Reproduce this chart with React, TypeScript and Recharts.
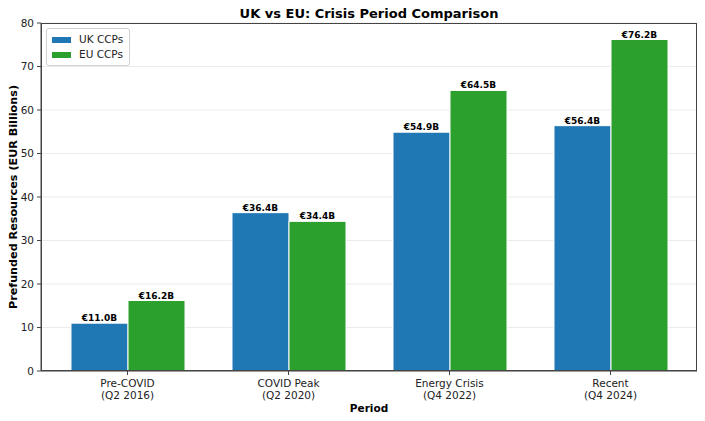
import { BarChart, Bar, XAxis, YAxis, CartesianGrid, LabelList } from "recharts";

const periods = ["Pre-COVID\n(Q2 2016)", "COVID Peak\n(Q2 2020)", "Energy Crisis\n(Q4 2022)", "Recent\n(Q4 2024)"];
const ukValues = [11.0, 36.4, 54.9, 56.4];
const euValues = [16.2, 34.4, 64.5, 76.2];
const yTicks = [0, 10, 20, 30, 40, 50, 60, 70, 80];

const UK = "#1f77b4";
const EU = "#2ca02c";
const FONT = "DejaVu Sans, sans-serif";

const data = periods.map((p, i) => ({ period: p, uk: ukValues[i], eu: euValues[i] }));

const PeriodTick = (props: any) => {
  const { x, y, payload } = props;
  const [a, b] = String(payload.value).split("\n");
  return (
    <text x={x} y={y} textAnchor="middle" fontSize={10.5} fill="#222" fontFamily={FONT}>
      <tspan x={x} dy={10}>{a}</tspan>
      <tspan x={x} dy={12}>{b}</tspan>
    </text>
  );
};

const fmt = (v: any) => `€${Number(v).toFixed(1)}B`;

const overlay = (left: number, top: number, size: number, rotate = false): React.CSSProperties => ({
  position: "absolute",
  left,
  top,
  transform: `translate(-50%,-50%)${rotate ? " rotate(-90deg)" : ""}`,
  fontSize: size,
  fontWeight: "bold",
  whiteSpace: "nowrap",
  color: "#000",
});

export default function App() {
  return (
    <div style={{ position: "absolute", left: 0, top: 0, width: 705, height: 421, background: "#fff", fontFamily: FONT }}>
      <div style={overlay(369, 13, 13)}>UK vs EU: Crisis Period Comparison</div>
      <div style={overlay(13, 197, 11.2, true)}>Prefunded Resources (EUR Billions)</div>
      <div style={overlay(369, 408, 10.5)}>Period</div>
      <BarChart
        width={705}
        height={421}
        data={data}
        margin={{ top: 23, right: 8, left: 0, bottom: 0 }}
        barCategoryGap={24}
        barGap={0}
      >
        <CartesianGrid vertical={false} stroke="#e6e6e6" strokeWidth={0.8} />
        <XAxis
          dataKey="period"
          interval={0}
          height={50}
          padding={{ left: 6, right: 6 }}
          tick={<PeriodTick />}
          tickSize={4}
          tickMargin={2}
          axisLine={{ stroke: "#444" }}
          tickLine={{ stroke: "#444" }}
        />
        <YAxis
          domain={[0, 80]}
          ticks={yTicks}
          width={41}
          tickSize={4}
          tickMargin={3}
          tick={{ fontSize: 10.5, fill: "#222", fontFamily: FONT }}
          axisLine={{ stroke: "#444" }}
          tickLine={{ stroke: "#444" }}
        />
        <Bar dataKey="uk" name="UK CCPs" fill={UK} stroke="#fff" strokeWidth={1} isAnimationActive={false}>
          <LabelList dataKey="uk" position="top" offset={2} formatter={fmt} style={{ fontSize: 9, fontWeight: "bold", fill: "#000", fontFamily: FONT }} />
        </Bar>
        <Bar dataKey="eu" name="EU CCPs" fill={EU} stroke="#fff" strokeWidth={1} isAnimationActive={false}>
          <LabelList dataKey="eu" position="top" offset={2} formatter={fmt} style={{ fontSize: 9, fontWeight: "bold", fill: "#000", fontFamily: FONT }} />
        </Bar>
      </BarChart>
      <div style={{ position: "absolute", left: 41, top: 23, width: 656, height: 348, border: "1px solid #444", boxSizing: "border-box", pointerEvents: "none", marginLeft: -0.5, marginTop: -0.5 }} />
      <div
        style={{
          position: "absolute",
          left: 46,
          top: 28,
          border: "1px solid #d0d0d0",
          borderRadius: 3,
          background: "rgba(255,255,255,0.8)",
          padding: "3px 6px 3px 5px",
          fontSize: 10.5,
          color: "#222",
          lineHeight: "15px",
        }}
      >
        {[["UK CCPs", UK], ["EU CCPs", EU]].map(([name, c]) => (
          <div key={name} style={{ display: "flex", alignItems: "center" }}>
            <span style={{ display: "inline-block", width: 19, height: 6, background: c, marginRight: 8 }} />
            {name}
          </div>
        ))}
      </div>
    </div>
  );
}
